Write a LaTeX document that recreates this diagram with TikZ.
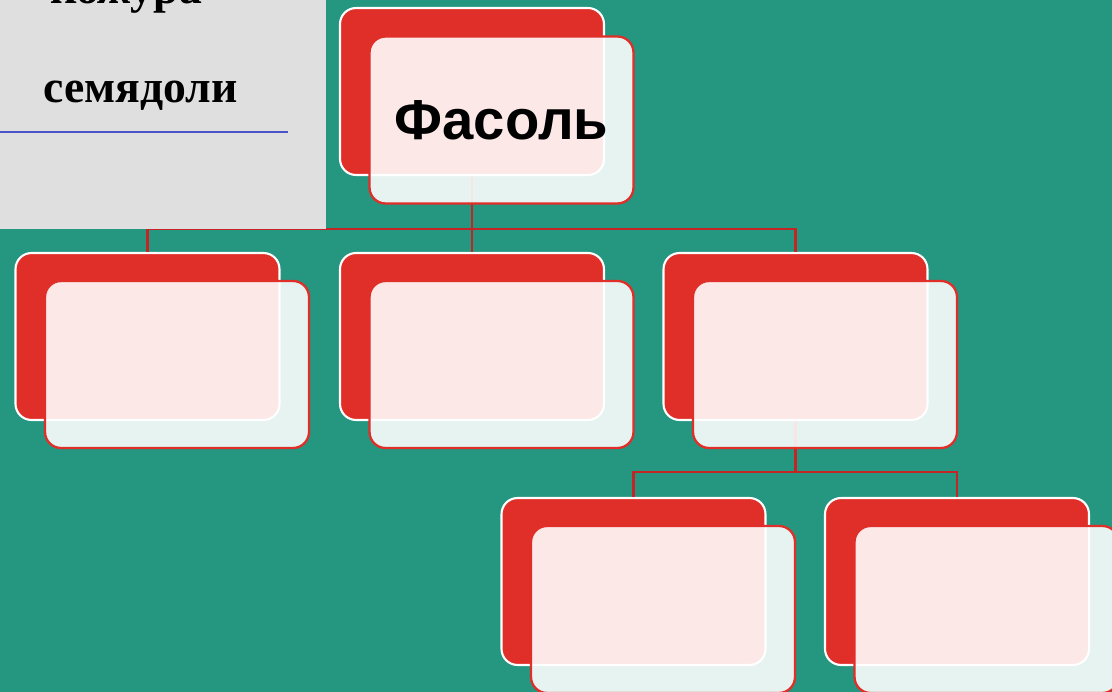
\documentclass[tikz,border=0pt]{standalone}
\usepackage{fontspec}
\setmainfont{Liberation Serif}
\newfontfamily\headfont{Liberation Sans}
\usepackage{tikz}

\definecolor{seabg}{RGB}{37,150,128}
\definecolor{cardred}{RGB}{224,46,40}
\definecolor{linkred}{RGB}{196,36,36}
\definecolor{paper}{RGB}{223,223,223}
\definecolor{rule}{RGB}{72,84,200}

\tikzset{
  backcard/.style={draw=white, line width=1.2pt, fill=cardred, rounded corners=0.32cm,
    minimum width=5.28cm, minimum height=3.34cm, inner sep=0pt},
  frontcard/.style={draw=cardred, line width=1.3pt, fill=white, fill opacity=0.89,
    text opacity=1, rounded corners=0.32cm,
    minimum width=5.28cm, minimum height=3.34cm, inner sep=0pt},
  link/.style={draw=linkred, line width=1.4pt}
}

\begin{document}
\begin{tikzpicture}[x=0.02cm,y=-0.02cm]
\useasboundingbox (0,0) rectangle (1112,692);
\fill[seabg] (0,0) rectangle (1112,692);

% back cards
\node[backcard] (bean) at (472,91.5) {};
\node[backcard] (partA) at (147.5,336.5) {};
\node[backcard] (partB) at (472,336.5) {};
\node[backcard] (partC) at (795.5,336.5) {};
\node[backcard] (partD) at (633.5,581.5) {};
\node[backcard] (partE) at (957,581.5) {};

% links
\draw[link] (bean.south) -- (472,229) -| (partA.north);
\draw[link] (bean.south) -- (partB.north);
\draw[link] (472,229) -| (partC.north);
\draw[link] (partC.south) -- (795.5,472) -| (partD.north);
\draw[link] (795.5,472) -| (partE.north);

% front cards
\node[frontcard] (beanF) at (501.5,120) {\headfont\bfseries\fontsize{32}{38}\selectfont Фасоль};
\node[frontcard] (partAF) at (177,364.5) {};
\node[frontcard] (partBF) at (501.5,364.5) {};
\node[frontcard] (partCF) at (825,364.5) {};
\node[frontcard] (partDF) at (663,609.5) {};
\node[frontcard] (partEF) at (986.5,609.5) {};

% pasted picture
\begin{scope}
\clip (0,0) rectangle (326,229.5);
\fill[paper] (0,0) rectangle (326,229.5);
\node[anchor=base west, inner sep=0pt] (peel) at (50,4)
  {\bfseries\fontsize{26}{32}\selectfont кожура};
\node[anchor=base west, inner sep=0pt] (leaves) at (43,103)
  {\bfseries\fontsize{26}{32}\selectfont семядоли};
\draw[rule, line width=1.1pt] (0,132) -- (288,132);
\end{scope}
\end{tikzpicture}
\end{document}
